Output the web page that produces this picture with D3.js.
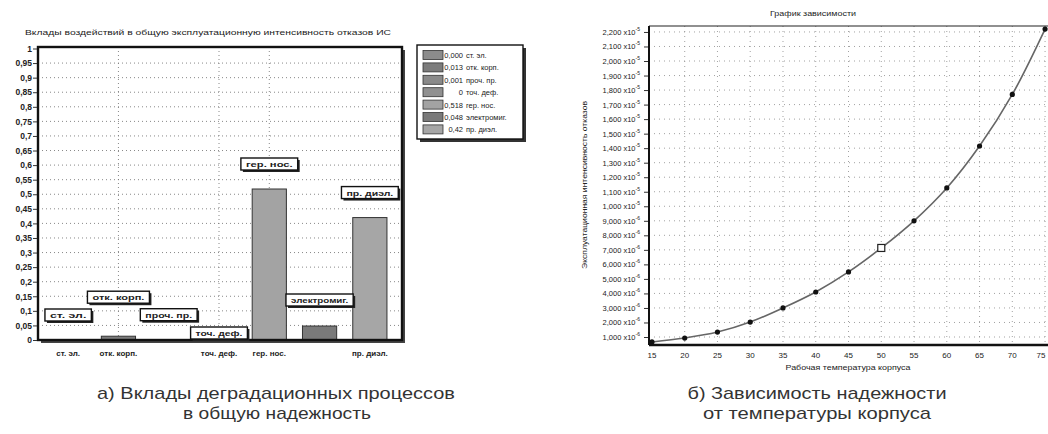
<!DOCTYPE html>
<html><head><meta charset="utf-8">
<script src="https://cdn.jsdelivr.net/npm/d3@7"></script>
<style>
html,body{margin:0;padding:0;background:#fff;}
svg{display:block;font-family:"Liberation Sans",Arial,sans-serif;}
</style></head>
<body><svg id="c" width="1048" height="434"></svg>
<script>
// ---------- data: left chart ----------
const barCats = ["ст. эл.","отк. корп.","проч. пр.","точ. деф.","гер. нос.","электромиг.","пр. диэл."];
const barValues = [0.000, 0.013, 0.001, 0, 0.518, 0.048, 0.42];
const legendNums = ["0,000","0,013","0,001","0","0,518","0,048","0,42"];
const axisCats = ["ст. эл.","отк. корп.","точ. деф.","гер. нос.","пр. диэл."];
const barYTicks = d3.range(0, 21).map(i => i * 0.05);
const barYTickLabels = ["0","0,05","0,1","0,15","0,2","0,25","0,3","0,35","0,4","0,45","0,5","0,55","0,6","0,65","0,7","0,75","0,8","0,85","0,9","0,95","1"];
// ---------- data: right chart ----------
const temps = [15,20,25,30,35,40,45,50,55,60,65,70,75];
const failRate = [0.66,0.93,1.34,2.03,3.0,4.1,5.48,7.13,9.0,11.26,14.15,17.7,22.2]; // x10^-3
const rateTicks = d3.range(1, 23);
const rateTickMant = ["1,000","2,000","3,000","4,000","5,000","6,000","7,000","8,000","9,000","1,000","1,100","1,200","1,300","1,400","1,500","1,600","1,700","1,800","1,900","2,000","2,100","2,200"];
const rateTickExp = ["-6","-6","-6","-6","-6","-6","-6","-6","-6","-5","-5","-5","-5","-5","-5","-5","-5","-5","-5","-5","-5","-5"];
const tempTicks = d3.range(15, 80, 5);

// ---------- styles ----------
const barColors = ["#8c8c8c","#7c7c7c","#8a8a8a","#909090","#a3a3a3","#7a7a7a","#a6a6a6"];
const markLift = [25,39,25,7,25,26,25];
const ink = "#222";

const svg = d3.select("#c");

// ================= LEFT CHART =================
const L = {x0:38, x1:402, y0:47, y1:340};
const yB = d3.scaleLinear().domain([0,1]).range([L.y1, L.y0+1.5]);
const xB = d3.scaleBand().domain(barCats).range([43,395]).paddingInner(0.32).paddingOuter(0.16);

svg.append("text").attr("x",25).attr("y",35).attr("font-size",8).attr("fill",ink)
  .attr("textLength",366).attr("lengthAdjust","spacingAndGlyphs")
  .text("Вклады воздействий в общую эксплуатационную интенсивность отказов ИС");

// frame shadow
svg.append("rect").attr("x",L.x0+3).attr("y",L.y0+3).attr("width",L.x1-L.x0).attr("height",L.y1-L.y0).attr("fill","#444");
svg.append("rect").attr("x",L.x0).attr("y",L.y0).attr("width",L.x1-L.x0).attr("height",L.y1-L.y0).attr("fill","#fff");

const gl = svg.append("g");
gl.selectAll("line.h").data(barYTicks.slice(1,20)).join("line")
  .attr("x1",L.x0).attr("x2",L.x1).attr("y1",d=>yB(d)).attr("y2",d=>yB(d))
  .attr("stroke","#7a7a7a").attr("stroke-width",0.9).attr("stroke-dasharray","1,3");
gl.selectAll("line.v").data(["отк. корп.","точ. деф.","гер. нос."]).join("line")
  .attr("x1",d=>xB(d)+xB.bandwidth()/2).attr("x2",d=>xB(d)+xB.bandwidth()/2)
  .attr("y1",L.y0).attr("y2",L.y1)
  .attr("stroke","#7a7a7a").attr("stroke-width",0.9).attr("stroke-dasharray","1,3");

// bars
svg.append("g").selectAll("rect").data(barCats).join("rect")
  .attr("x",d=>xB(d)).attr("width",xB.bandwidth())
  .attr("y",(d,i)=>yB(barValues[i])).attr("height",(d,i)=>Math.max(0,yB(0)-yB(barValues[i])))
  .attr("fill",(d,i)=>barColors[i]).attr("stroke","#333").attr("stroke-width",1);

// frame border
svg.append("rect").attr("x",L.x0).attr("y",L.y0).attr("width",L.x1-L.x0).attr("height",L.y1-L.y0)
  .attr("fill","none").attr("stroke","#111").attr("stroke-width",2.4);

// y axis
const yAxL = d3.axisLeft(yB).tickValues(barYTicks).tickSize(4).tickFormat((d,i)=>barYTickLabels[i]);
const gyL = svg.append("g").attr("transform",`translate(${L.x0-1},0)`).call(yAxL);
gyL.select(".domain").remove();
gyL.selectAll("line").attr("stroke","#333");
gyL.selectAll("text").attr("font-size",8.5).attr("font-weight","bold").attr("fill",ink).attr("x",-5);

// x labels
svg.append("g").selectAll("text").data(axisCats).join("text")
  .attr("x",d=>xB(d)+xB.bandwidth()/2).attr("y",356).attr("text-anchor","middle")
  .attr("font-size",8).attr("font-weight","bold").attr("fill",ink).text(d=>d);

// marks (callouts)
const mk = svg.append("g").selectAll("g").data(barCats).join("g")
  .attr("transform",(d,i)=>`translate(${xB(d)+xB.bandwidth()/2},${yB(barValues[i])-markLift[i]})`);
mk.each(function(d){
  const g = d3.select(this);
  const w = d.length*5.2+10, h = 12;
  g.append("rect").attr("x",-w/2+2).attr("y",-h/2+2).attr("width",w).attr("height",h).attr("fill","#222");
  g.append("rect").attr("x",-w/2).attr("y",-h/2).attr("width",w).attr("height",h).attr("fill","#fff").attr("stroke","#111").attr("stroke-width",1.4);
  g.append("text").attr("y",3).attr("text-anchor","middle").attr("font-size",8).attr("font-weight","bold").attr("fill",ink)
    .attr("textLength",w-10).attr("lengthAdjust","spacingAndGlyphs").text(d);
});

// legend
const LG = {x:417, y:45, w:106, h:94};
svg.append("rect").attr("x",LG.x+3).attr("y",LG.y+3).attr("width",LG.w).attr("height",LG.h).attr("fill","#333");
svg.append("rect").attr("x",LG.x).attr("y",LG.y).attr("width",LG.w).attr("height",LG.h).attr("fill","#fff").attr("stroke","#111").attr("stroke-width",1.4);
const lgRows = svg.append("g").selectAll("g").data(barCats).join("g")
  .attr("transform",(d,i)=>`translate(${LG.x},${LG.y+10+i*12.4})`);
lgRows.append("rect").attr("x",6).attr("y",-4.5).attr("width",20).attr("height",9)
  .attr("fill",(d,i)=>barColors[i]).attr("stroke","#333").attr("stroke-width",0.8);
lgRows.append("text").attr("x",46).attr("y",3).attr("text-anchor","end").attr("font-size",7.5).attr("fill",ink)
  .text((d,i)=>legendNums[i]);
lgRows.append("text").attr("x",49).attr("y",3).attr("font-size",7.5).attr("fill",ink).text(d=>d);

// ================= RIGHT CHART =================
const R = {x0:649, x1:1049, y0:26, y1:345};
const xT = d3.scaleLinear().domain([14.55,75.6]).range([R.x0,R.x1]);
const yR = d3.scaleLinear().domain([0.45,22.41]).range([R.y1,R.y0]);

svg.append("text").attr("x",813).attr("y",16).attr("text-anchor","middle").attr("font-size",7).attr("fill",ink)
  .attr("textLength",86).attr("lengthAdjust","spacingAndGlyphs").text("График зависимости");

const gr = svg.append("g");
gr.selectAll("line.h").data(rateTicks).join("line")
  .attr("x1",R.x0).attr("x2",R.x1).attr("y1",d=>yR(d)).attr("y2",d=>yR(d))
  .attr("stroke","#8a8a8a").attr("stroke-width",0.8).attr("stroke-dasharray","1,4");
gr.selectAll("line.v").data(tempTicks.slice(1)).join("line")
  .attr("x1",d=>xT(d)).attr("x2",d=>xT(d)).attr("y1",R.y0).attr("y2",R.y1)
  .attr("stroke","#8a8a8a").attr("stroke-width",0.8).attr("stroke-dasharray","1,4");

// frame
svg.append("line").attr("x1",R.x0).attr("x2",R.x1).attr("y1",R.y0).attr("y2",R.y0).attr("stroke","#222").attr("stroke-width",1.2);
svg.append("line").attr("x1",R.x0).attr("x2",R.x0).attr("y1",R.y0).attr("y2",R.y1).attr("stroke","#111").attr("stroke-width",2);
svg.append("line").attr("x1",R.x0).attr("x2",R.x1).attr("y1",R.y1).attr("y2",R.y1).attr("stroke","#111").attr("stroke-width",2.5);

// y axis labels
const yAxR = d3.axisLeft(yR).tickValues(rateTicks).tickSize(4).tickFormat("");
const gyR = svg.append("g").attr("transform",`translate(${R.x0-1},0)`).call(yAxR);
gyR.select(".domain").remove();
gyR.selectAll("line").attr("stroke","#333");
const yl = svg.append("g").selectAll("text").data(rateTicks).join("text")
  .attr("x",640).attr("y",d=>yR(d)+3).attr("text-anchor","end").attr("font-size",7.5).attr("fill",ink);
yl.append("tspan").text((d,i)=>rateTickMant[i]+" x10");
yl.append("tspan").attr("font-size",5).attr("dy",-4).text((d,i)=>rateTickExp[i]);

// x axis labels
svg.append("g").selectAll("text").data(tempTicks).join("text")
  .attr("x",d=>Math.min(xT(d), 1041)).attr("y",358).attr("text-anchor","middle").attr("font-size",8).attr("fill",ink).text(d=>d);

svg.append("text").attr("x",848).attr("y",370).attr("text-anchor","middle").attr("font-size",6.5).attr("fill",ink)
  .attr("textLength",125).attr("lengthAdjust","spacingAndGlyphs").text("Рабочая температура корпуса");
svg.append("text").attr("transform","translate(587,185) rotate(-90)").attr("text-anchor","middle").attr("font-size",6.5).attr("fill",ink)
  .attr("textLength",168).attr("lengthAdjust","spacingAndGlyphs").text("Эксплуатационная интенсивность отказов");

// curve
const pts = temps.map((t,i)=>[t,failRate[i]]);
svg.append("path").datum(pts)
  .attr("d",d3.line().x(d=>xT(d[0])).y(d=>yR(d[1])).curve(d3.curveCatmullRom))
  .attr("fill","none").attr("stroke","#666").attr("stroke-width",1.6);
svg.append("g").selectAll("circle").data(pts.filter(p=>p[0]!==50)).join("circle")
  .attr("cx",d=>xT(d[0])).attr("cy",d=>yR(d[1])).attr("r",2.6).attr("fill","#111");
svg.append("g").selectAll("rect").data(pts.filter(p=>p[0]===50)).join("rect")
  .attr("x",d=>xT(d[0])-3.5).attr("y",d=>yR(d[1])-3.5).attr("width",7).attr("height",7)
  .attr("fill","#fff").attr("stroke","#222").attr("stroke-width",1.2);

// ================= CAPTIONS =================
const cap = svg.append("g").attr("font-size",17).attr("fill","#333").attr("text-anchor","middle");
cap.append("text").attr("x",276).attr("y",399).attr("textLength",358).attr("lengthAdjust","spacingAndGlyphs").text("а) Вклады деградационных процессов");
cap.append("text").attr("x",277).attr("y",419).attr("textLength",188).attr("lengthAdjust","spacingAndGlyphs").text("в общую надежность");
cap.append("text").attr("x",817).attr("y",399).attr("textLength",259).attr("lengthAdjust","spacingAndGlyphs").text("б) Зависимость надежности");
cap.append("text").attr("x",817).attr("y",419).attr("textLength",228).attr("lengthAdjust","spacingAndGlyphs").text("от температуры корпуса");
</script></body></html>
